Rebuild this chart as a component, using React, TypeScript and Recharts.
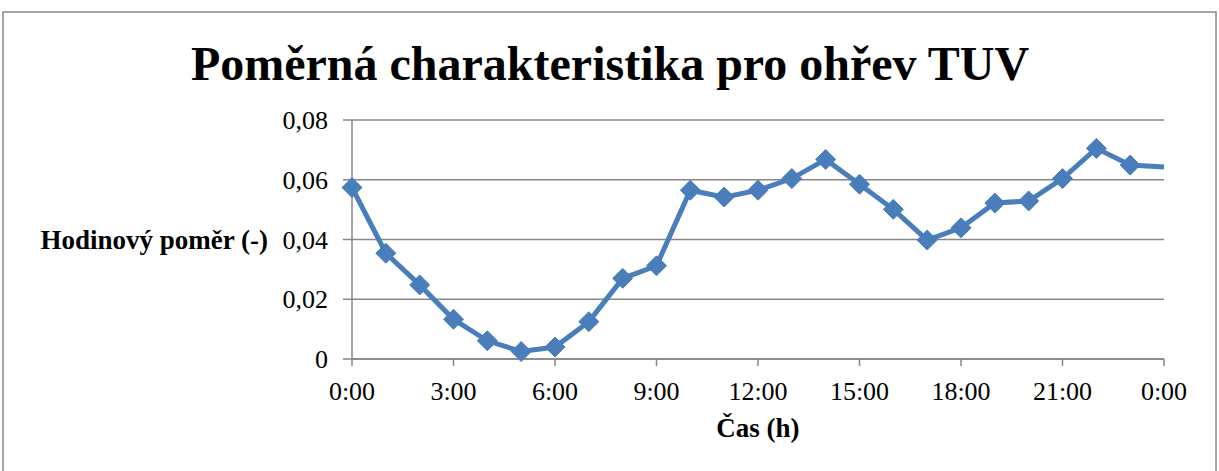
import React from 'react';
import { LineChart, Line, XAxis, YAxis, CartesianGrid, Label } from 'recharts';

const hours = [0, 1, 2, 3, 4, 5, 6, 7, 8, 9, 10, 11, 12, 13, 14, 15, 16, 17, 18, 19, 20, 21, 22, 23, 24];
const ratios = [
  0.0574, 0.0354, 0.0248, 0.0133, 0.0061, 0.0025, 0.0040, 0.0125, 0.0270, 0.0312,
  0.0565, 0.0542, 0.0565, 0.0604, 0.0668, 0.0585, 0.0501, 0.0398, 0.0439, 0.0522,
  0.0529, 0.0604, 0.0705, 0.0649, 0.0643,
];
const xTicks = [0, 3, 6, 9, 12, 15, 18, 21, 24];
const yTicks = [0, 0.02, 0.04, 0.06, 0.08];

const title = 'Poměrná charakteristika pro ohřev TUV';
const xTitle = 'Čas (h)';
const yTitle = 'Hodinový poměr (-)';

const data = hours.map((h, i) => ({ h, v: ratios[i] }));

const FONT = "'Liberation Serif', 'Times New Roman', serif";
const BLUE = '#4a7ebb';
const GRID = '#868686';

const Diamond = (props: any) => {
  const { cx, cy, index } = props;
  if (index === hours.length - 1 || cx == null || cy == null) return <g key={index} />;
  const r = 10;
  return (
    <polygon
      key={index}
      points={`${cx},${cy - r} ${cx + r},${cy} ${cx},${cy + r} ${cx - r},${cy}`}
      fill={BLUE}
      stroke={BLUE}
      strokeWidth={1}
    />
  );
};

export default function App() {
  return (
    <div style={{ position: 'absolute', left: 0, top: 0, width: 1219, height: 471, background: '#fff', overflow: 'hidden' }}>
      <LineChart
        width={1219}
        height={471}
        data={data}
        margin={{ top: 120, right: 55, bottom: 72, left: 0 }}
      >
        <CartesianGrid vertical={false} stroke={GRID} strokeWidth={1.5} />
        <XAxis
          dataKey="h"
          type="number"
          domain={[0, 24]}
          ticks={xTicks}
          interval={0}
          height={40}
          tickFormatter={(h: number) => `${h % 24}:00`}
          tick={{ fill: '#000', fontSize: 26, fontFamily: FONT }}
          tickSize={7}
          tickMargin={16}
          axisLine={{ stroke: GRID, strokeWidth: 1.5 }}
          tickLine={{ stroke: GRID, strokeWidth: 1.5 }}
        >
          <Label
            content={(p: any) => {
              const vb = p.viewBox || {};
              return (
                <text
                  x={vb.x + vb.width / 2}
                  y={vb.y + 78}
                  textAnchor="middle"
                  fontFamily={FONT}
                  fontWeight="bold"
                  fontSize={27}
                  fill="#000"
                >
                  {xTitle}
                </text>
              );
            }}
          />
        </XAxis>
        <YAxis
          type="number"
          domain={[0, 0.08]}
          ticks={yTicks}
          interval={0}
          width={352}
          tickFormatter={(v: number) => (v === 0 ? '0' : v.toFixed(2).replace('.', ','))}
          tick={{ fill: '#000', fontSize: 26, fontFamily: FONT }}
          tickSize={9}
          tickMargin={15}
          axisLine={{ stroke: GRID, strokeWidth: 1.5 }}
          tickLine={{ stroke: GRID, strokeWidth: 1.5 }}
        >
          <Label
            content={(p: any) => {
              const vb = p.viewBox || {};
              return (
                <text
                  x={vb.x + vb.width - 84}
                  y={vb.y + vb.height / 2 + 9}
                  textAnchor="end"
                  fontFamily={FONT}
                  fontWeight="bold"
                  fontSize={27}
                  fill="#000"
                >
                  {yTitle}
                </text>
              );
            }}
          />
        </YAxis>
        <Line
          type="linear"
          dataKey="v"
          stroke={BLUE}
          strokeWidth={5}
          dot={<Diamond />}
          activeDot={false}
          isAnimationActive={false}
        />
      </LineChart>
      <svg
        width={1219}
        height={471}
        style={{ position: 'absolute', left: 0, top: 0, pointerEvents: 'none' }}
      >
        <rect x={3} y={12} width={1213} height={470} fill="none" stroke="#888" strokeWidth={1.5} />
        <text
          x={610}
          y={80}
          textAnchor="middle"
          fontFamily={FONT}
          fontWeight="bold"
          fontSize={48}
          fill="#000"
        >
          {title}
        </text>
      </svg>
    </div>
  );
}
